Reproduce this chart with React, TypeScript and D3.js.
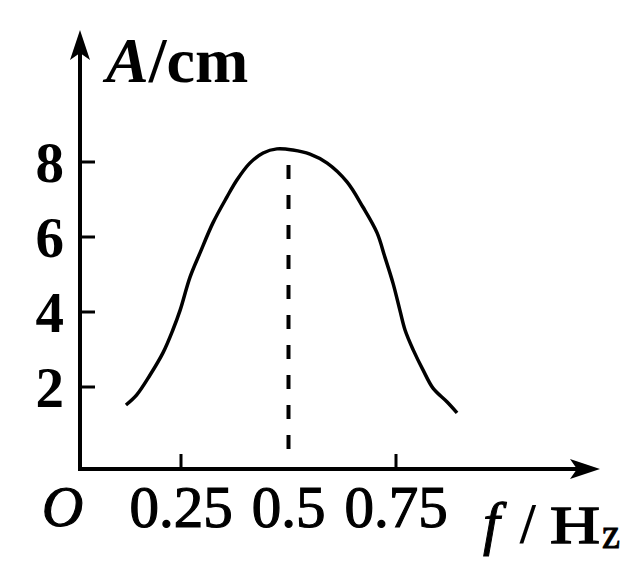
import React from 'react';
import * as d3 from 'd3';

const freq = [0.122, 0.147, 0.178, 0.208, 0.231, 0.248, 0.271, 0.294, 0.324, 0.357, 0.38, 0.41, 0.441, 0.473, 0.51, 0.55, 0.59, 0.636, 0.673, 0.706, 0.724, 0.743, 0.759, 0.771, 0.79, 0.813, 0.836, 0.869, 0.892];
const amp = [1.52, 1.79, 2.32, 2.91, 3.52, 4.05, 4.93, 5.57, 6.37, 7.07, 7.52, 7.97, 8.24, 8.35, 8.32, 8.21, 7.97, 7.47, 6.8, 6.11, 5.47, 4.77, 4.05, 3.52, 2.99, 2.45, 1.97, 1.6, 1.31];
const yTicks = [2, 4, 6, 8];
const xTicks = [0.25, 0.5, 0.75];
const xTickLabels = ['0.25', '0.5', '0.75'];
const resonanceF = 0.5;

const FONT = '"Liberation Serif", "Times New Roman", serif';

export default function App() {
  const x = d3.scaleLinear().domain([0.25, 0.75]).range([181, 396]);
  const y = d3.scaleLinear().domain([2, 8]).range([387, 162]);
  const ox = 80;
  const oy = 469;
  const pts: [number, number][] = freq.map((f, i) => [x(f), y(amp[i])]);
  const line = d3.line().curve(d3.curveCatmullRom.alpha(0.5));
  const peak = d3.max(amp) as number;

  return (
    <div style={{ position: 'absolute', left: 0, top: 0 }}>
      <svg width={630} height={575} style={{ display: 'block', background: '#fff' }}>
        {/* axes */}
        <line x1={ox} y1={oy} x2={585} y2={oy} stroke="#000" strokeWidth={4} />
        <line x1={ox} y1={oy + 2} x2={ox} y2={45} stroke="#000" strokeWidth={4} />
        <path d={`M${ox},30 L${ox + 10},60 L${ox},53 L${ox - 10},60 Z`} fill="#000" />
        <path d={`M600,${oy} L570,${oy - 10} L577,${oy} L570,${oy + 10} Z`} fill="#000" />

        {/* y ticks */}
        {yTicks.map((t) => (
          <g key={t}>
            <line x1={ox} x2={ox + 15} y1={y(t)} y2={y(t)} stroke="#000" strokeWidth={3} />
            <text x={64} y={y(t)} dy="0.35em" textAnchor="end" fontFamily={FONT} fontWeight="bold" fontSize={57}>
              {t}
            </text>
          </g>
        ))}

        {/* x ticks */}
        {xTicks.map((t, i) => (
          <g key={t}>
            {t !== resonanceF && (
              <line x1={x(t)} x2={x(t)} y1={oy} y2={oy - 15} stroke="#000" strokeWidth={3} />
            )}
            <text
              x={x(t)}
              y={527}
              textAnchor="middle"
              fontFamily={FONT}
              fontSize={59}
              stroke="#000"
              strokeWidth={1.2}
            >
              {xTickLabels[i]}
            </text>
          </g>
        ))}

        {/* dashed resonance line */}
        <line
          x1={x(resonanceF)}
          x2={x(resonanceF)}
          y1={y(peak) + 16}
          y2={oy - 11}
          stroke="#000"
          strokeWidth={4}
          strokeDasharray="14 16"
        />

        {/* curve */}
        <path d={line(pts) || ''} fill="none" stroke="#000" strokeWidth={3.5} />

        {/* origin */}
        <text x={42} y={526} fontFamily={FONT} fontStyle="italic" fontSize={57} stroke="#000" strokeWidth={1.2}>
          O
        </text>

        {/* y label */}
        <text x={106} y={82} fontFamily={FONT} fontWeight="bold" fontSize={64}>
          <tspan fontStyle="italic">A</tspan>
          <tspan>/cm</tspan>
        </text>

        {/* x label */}
        <text x={483} y={543} fontFamily={FONT} fontStyle="italic" fontSize={60} stroke="#000" strokeWidth={1}>
          f
        </text>
        <text x={520} y={543} fontFamily={FONT} fontWeight="bold" fontSize={56}>
          /
        </text>
        <text
          x={550}
          y={543}
          fontFamily={FONT}
          fontSize={52}
          stroke="#000"
          strokeWidth={1.4}
          textLength={50}
          lengthAdjust="spacingAndGlyphs"
        >
          H
        </text>
        <text
          x={602}
          y={548}
          fontFamily={FONT}
          fontSize={44}
          stroke="#000"
          strokeWidth={1}
          textLength={18}
          lengthAdjust="spacingAndGlyphs"
        >
          z
        </text>
      </svg>
    </div>
  );
}
